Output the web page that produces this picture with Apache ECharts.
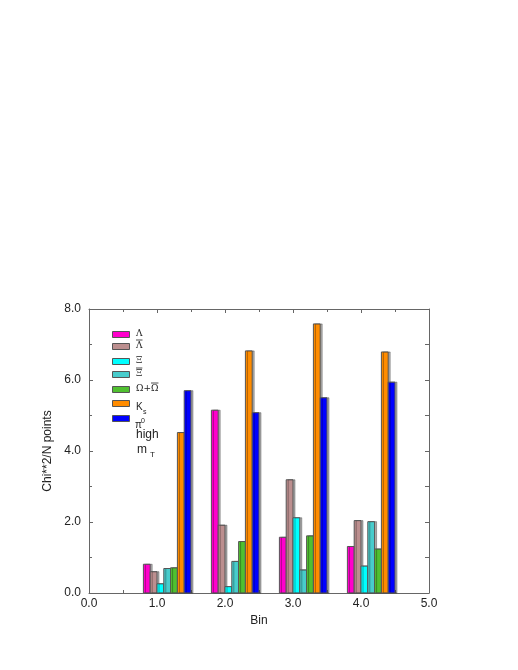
<!DOCTYPE html>
<html><head><meta charset="utf-8">
<script src="https://cdn.jsdelivr.net/npm/echarts@6/dist/echarts.min.js"></script>
<style>html,body{margin:0;padding:0;background:#fff}#c{width:518px;height:670px}</style>
</head><body><div id="c"></div>
<script>
const bins = [1, 2, 3, 4];
const seriesNames = ['Lambda', 'AntiLambda', 'Xi', 'AntiXi', 'Omega', 'Ks', 'pi0'];
const legendLabels = ['Λ', 'Λ', 'Ξ', 'Ξ', 'Ω+Ω', 'K', 'π'];
const colors = ['#ff00cc', '#bc8f8f', '#00ffff', '#48cccc', '#50c030', '#ff8c00', '#0000ff'];
const lambdaVals     = [0.81, 5.15, 1.57, 1.31];
const antiLambdaVals = [0.60, 1.91, 3.19, 2.04];
const xiVals         = [0.26, 0.18, 2.12, 0.76];
const antiXiVals     = [0.69, 0.89, 0.65, 2.01];
const omegaVals      = [0.71, 1.45, 1.61, 1.24];
const ksVals         = [4.52, 6.82, 7.58, 6.79];
const pi0Vals        = [5.70, 5.08, 5.50, 5.94];
const allVals = [lambdaVals, antiLambdaVals, xiVals, antiXiVals, omegaVals, ksVals, pi0Vals];
const xTicks = [0, 1, 2, 3, 4, 5];
const yTicks = [0, 2, 4, 6, 8];

const barW = 0.1, startOff = -0.2;
const series = allVals.map((vals, si) => ({
  type: 'custom',
  name: seriesNames[si],
  xAxisIndex: 0, yAxisIndex: 0,
  data: bins.map((b, i) => [b, vals[i]]),
  renderItem: function (params, api) {
    const b = api.value(0), v = api.value(1);
    const x0 = b + startOff + si * barW;
    const p0 = api.coord([x0, 0]);
    const p1 = api.coord([x0 + barW, v]);
    return {
      type: 'rect',
      shape: { x: p0[0], y: p1[1], width: p1[0] - p0[0], height: p0[1] - p1[1] },
      style: { fill: colors[si], stroke: '#555', lineWidth: 1,
        shadowColor: 'rgba(0,0,0,0.3)', shadowOffsetX: 2, shadowOffsetY: 0, shadowBlur: 0 }
    };
  }
}));

// legend as graphic
const legendFont = '9px "DejaVu Serif", serif';
const ctx = document.createElement('canvas').getContext('2d');
ctx.font = legendFont;
const wLam = ctx.measureText('Λ').width;
const wXi = ctx.measureText('Ξ').width;
const wOmPlus = ctx.measureText('Ω+').width;
const wOm = ctx.measureText('Ω').width;
const rowY = [334, 346, 361, 374, 389, 403, 418];
const lx = 136;
const graphic = [];
seriesNames.forEach((n, i) => {
  graphic.push({ type: 'rect', left: 112, top: rowY[i] - 3,
    shape: { width: 17, height: 6 }, style: { fill: colors[i], stroke: '#555', lineWidth: 1 } });
  if (i < 5) graphic.push({ type: 'text', left: lx, top: rowY[i] - 5,
    style: { text: legendLabels[i], font: legendFont, fill: '#222' } });
});
const ol = (x1, x2, y) => graphic.push({ type: 'line', shape: { x1, y1: y, x2, y2: y }, style: { stroke: '#222', lineWidth: 0.8 } });
ol(lx, lx + wLam, rowY[1] - 6);
ol(lx, lx + wXi, rowY[3] - 6);
ol(lx + wOmPlus, lx + wOmPlus + wOm, rowY[4] - 6);
const sans = (px) => px + 'px "Liberation Sans", sans-serif';
const txt = (t, x, yc, f) => graphic.push({ type: 'text', x, y: yc, style: { text: t, font: f, fill: '#222', verticalAlign: 'middle', align: 'left' } });
txt(legendLabels[5], 136, 407, sans(10));
txt('s', 143, 412, sans(7));
txt(legendLabels[6], 135, 425, sans(10));
txt('0', 141, 421, sans(7));
txt('high', 136, 434.5, sans(12));
txt('m', 137, 450, sans(12));
txt('T', 150, 455, sans(8));

const axisLine = { show: true, onZero: false, lineStyle: { color: '#666', width: 1 } };
const fmt = v => v.toFixed(1);
const tick = { show: true, inside: true, length: 4, lineStyle: { color: '#666' } };
const minor = { show: true, splitNumber: 2, length: 3, lineStyle: { color: '#666' } };
const option = {
  animation: false,
  backgroundColor: '#fff',
  textStyle: { fontFamily: 'Liberation Sans' },
  grid: { left: 89, right: 89, top: 309, bottom: 77 },
  xAxis: [
    { type: 'value', min: 0, max: 5, interval: 1, position: 'bottom',
      name: 'Bin', nameLocation: 'middle', nameGap: 22, nameTextStyle: { fontSize: 12, color: '#222' },
      axisLine, axisTick: tick, minorTick: minor,
      axisLabel: { formatter: fmt, fontSize: 12, color: '#222', margin: 5 },
      splitLine: { show: false } },
    { type: 'value', min: 0, max: 5, interval: 1, position: 'top',
      axisLine, axisTick: tick, minorTick: minor,
      axisLabel: { show: false }, splitLine: { show: false } }
  ],
  yAxis: [
    { type: 'value', min: 0, max: 8, interval: 2, position: 'left',
      name: 'Chi**2/N points', nameLocation: 'middle', nameGap: 14, nameRotate: 90,
      nameTextStyle: { fontSize: 12, color: '#222' },
      axisLine, axisTick: tick, minorTick: minor,
      axisLabel: { formatter: fmt, fontSize: 12, color: '#222', margin: 8 },
      splitLine: { show: false } },
    { type: 'value', min: 0, max: 8, interval: 2, position: 'right',
      axisLine, axisTick: tick, minorTick: { show: true, splitNumber: 2, length: 4, lineStyle: { color: '#666' } },
      axisLabel: { show: false }, splitLine: { show: false } }
  ],
  series,
  graphic
};
echarts.init(document.getElementById('c')).setOption(option);
</script></body></html>
